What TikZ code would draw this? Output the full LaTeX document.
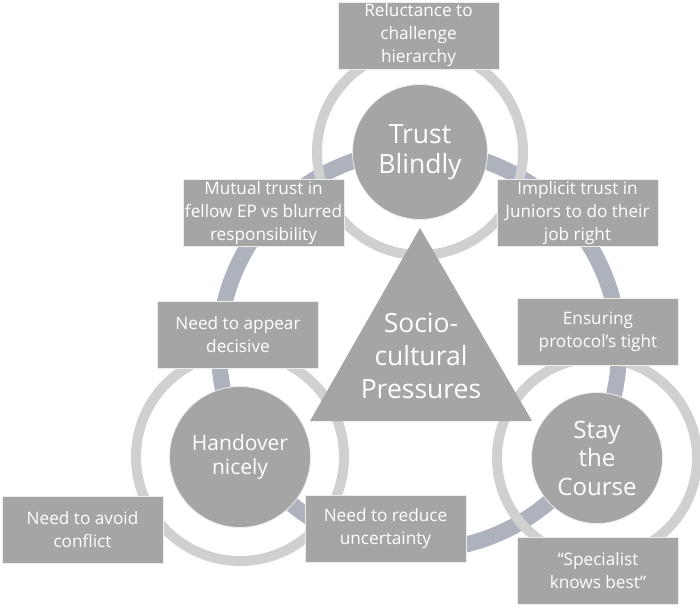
\documentclass[tikz,border=0pt]{standalone}
\usepackage{fontspec}
\setmainfont{Open Sans}
\usepackage{tikz}
\usetikzlibrary{positioning}
\definecolor{boxgray}{HTML}{A5A5A5}
\definecolor{ringblue}{HTML}{ADB2BD}
\definecolor{ringlight}{HTML}{D0D0D0}

\begin{document}
\begin{tikzpicture}[
  x=1pt, y=-1pt,
  core/.style={circle, draw=white!80!boxgray, line width=0.8pt, fill=boxgray, text=white, align=center, minimum size=135pt, inner sep=0pt},
  pressure/.style={rectangle, draw=white!80!boxgray, line width=0.8pt, fill=boxgray, text=white, align=center, minimum width=161pt, minimum height=67pt, inner sep=0pt, font=\fontsize{17.2}{23}\selectfont},
  halo/.style={draw=ringlight, line width=10pt},
  cycleband/.style={draw=ringblue, line width=16pt},
  tri/.style={fill=boxgray}
]
  \useasboundingbox (0,0) rectangle (700,608);
  \coordinate (hub) at (419,350);
  \coordinate (trustc) at (420,152);
  \coordinate (handc) at (240,457);
  \coordinate (stayc) at (597,458);

  \draw[cycleband] (hub) circle[radius=200pt];
  \draw[halo] (trustc) circle[radius=103pt];
  \draw[halo] (handc) circle[radius=104pt];
  \draw[halo] (stayc) circle[radius=100pt];

  \node[core, font=\fontsize{26.5}{30}\selectfont] (trust) at (trustc) {Trust\\Blindly};
  \node[core, font=\fontsize{21}{24.5}\selectfont, minimum size=141pt] (hand) at (handc) {Handover\\nicely};
  \node[core, font=\fontsize{24}{28.5}\selectfont, minimum size=131pt] (stay) at (stayc) {Stay\\the\\Course};

  \fill[tri] (420,228) -- (532,421) -- (310,421) -- cycle;
  \node[text=white, align=center, font=\fontsize{26.5}{33}\selectfont] (socio) at (421,356) {Socio-\\cultural\\Pressures};

  \node[pressure] (reluct) at (418.5,35.5) {Reluctance to\\challenge\\hierarchy};
  \node[pressure] (mutual) at (263.5,213) {Mutual trust in\\fellow EP vs blurred\\responsibility};
  \node[pressure] (implicit) at (577.5,213) {Implicit trust in\\Juniors to do their\\job right};
  \node[pressure] (decisive) at (238,334.5) {Need to appear\\decisive};
  \node[pressure] (protocol) at (598,332) {Ensuring\\protocol’s tight};
  \node[pressure] (conflict) at (82.5,529.5) {Need to avoid\\conflict};
  \node[pressure] (uncert) at (385.5,529) {Need to reduce\\uncertainty};
  \node[pressure] (special) at (598,570.5) {“Specialist\\knows best”};
\end{tikzpicture}
\end{document}
